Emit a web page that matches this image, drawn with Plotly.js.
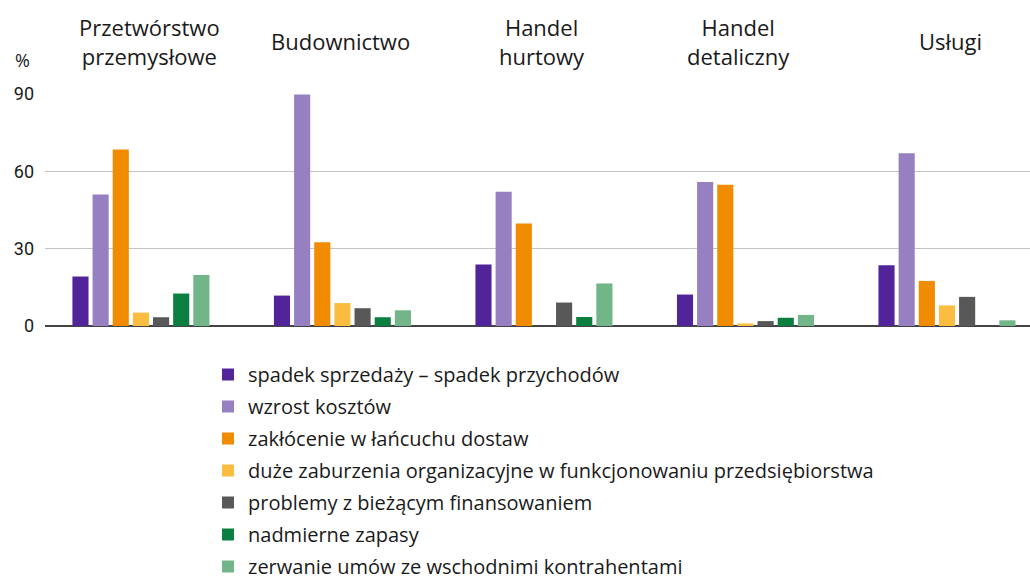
<!DOCTYPE html>
<html>
<head>
<meta charset="utf-8">
<script src="https://cdn.plot.ly/plotly-3.0.1.min.js"></script>
<style>html,body{margin:0;padding:0;background:#fff;}#chart{width:1030px;height:582px;}</style>
</head>
<body>
<div id="chart"></div>
<script>
const categories = ["Przetwórstwo<br>przemysłowe", "Budownictwo", "Handel<br>hurtowy", "Handel<br>detaliczny", "Usługi"];
const seriesNames = [
  "spadek sprzedaży – spadek przychodów",
  "wzrost kosztów",
  "zakłócenie w łańcuchu dostaw",
  "duże zaburzenia organizacyjne w funkcjonowaniu przedsiębiorstwa",
  "problemy z bieżącym finansowaniem",
  "nadmierne zapasy",
  "zerwanie umów ze wschodnimi kontrahentami"
];
const spadekSprzedazy = [19.2, 11.8, 23.9, 12.2, 23.6];
const wzrostKosztow = [51.0, 89.8, 52.1, 55.9, 67.0];
const zaklocenieDostaw = [68.5, 32.5, 39.8, 54.8, 17.5];
const zaburzeniaOrg = [5.2, 8.9, 0, 1.0, 8.0];
const problemyFinans = [3.4, 6.9, 9.1, 1.9, 11.3];
const nadmierneZapasy = [12.6, 3.4, 3.5, 3.2, 0];
const zerwanieUmow = [19.8, 6.1, 16.5, 4.3, 2.2];
const yTicks = [0, 30, 60, 90];

const seriesValues = [spadekSprzedazy, wzrostKosztow, zaklocenieDostaw, zaburzeniaOrg, problemyFinans, nadmierneZapasy, zerwanieUmow];
const colors = ["#512499", "#9780c2", "#f18b00", "#fbbd40", "#585858", "#0b7f40", "#72b588"];
const titleShifts = [9, -2, -2, -7, 4];

const traces = seriesValues.map((vals, i) => ({
  type: "bar",
  name: seriesNames[i],
  x: categories,
  y: vals,
  marker: {color: colors[i]},
  legendgroup: "g" + i,
  hoverinfo: "y+name"
}));

const annotations = categories.map((c, i) => ({
  x: c, xref: "x", y: 1, yref: "paper", yshift: 53, xshift: titleShifts[i],
  text: c, showarrow: false, xanchor: "center", yanchor: "middle",
  font: {family: "Open Sans, Noto Sans, sans-serif", size: 22, color: "#1a1a1a"}
}));
annotations.push({
  x: 0, xref: "paper", xshift: -23, y: 1, yref: "paper", yshift: 34,
  text: "%", showarrow: false, xanchor: "center", yanchor: "middle",
  font: {family: "Open Sans, Noto Sans, sans-serif", size: 18, color: "#1a1a1a"}
});

const layout = {
  width: 1030, height: 582,
  margin: {l: 45, r: 0, t: 94, b: 256},
  paper_bgcolor: "#fff", plot_bgcolor: "#fff",
  barmode: "group", bargap: 0.3, bargroupgap: 0.2,
  font: {family: "Open Sans, sans-serif", color: "#1a1a1a"},
  xaxis: {
    range: [-0.476, 4.412], showticklabels: false, showgrid: false,
    showline: false, zeroline: false, ticks: ""
  },
  yaxis: {
    range: [0, 90], tickvals: yTicks, ticktext: yTicks.map(String),
    showgrid: true, gridcolor: "#c4c4c4", gridwidth: 1,
    zeroline: true, zerolinecolor: "#444", zerolinewidth: 1.5,
    showline: false, ticks: "", ticklabelstandoff: 10,
    tickfont: {family: "Roboto, sans-serif", size: 18, color: "#1a1a1a"}
  },
  showlegend: true,
  legend: {
    x: (208 - 45) / 985, xref: "paper", xanchor: "left",
    y: 1 - 355 / 582, yref: "container", yanchor: "top",
    traceorder: "grouped", tracegroupgap: 3,
    font: {family: "Open Sans, sans-serif", size: 20, color: "#1a1a1a"},
    bgcolor: "rgba(0,0,0,0)", itemclick: false
  },
  annotations: annotations
};

Plotly.newPlot("chart", traces, layout, {displayModeBar: false, staticPlot: true});
</script>
</body>
</html>
